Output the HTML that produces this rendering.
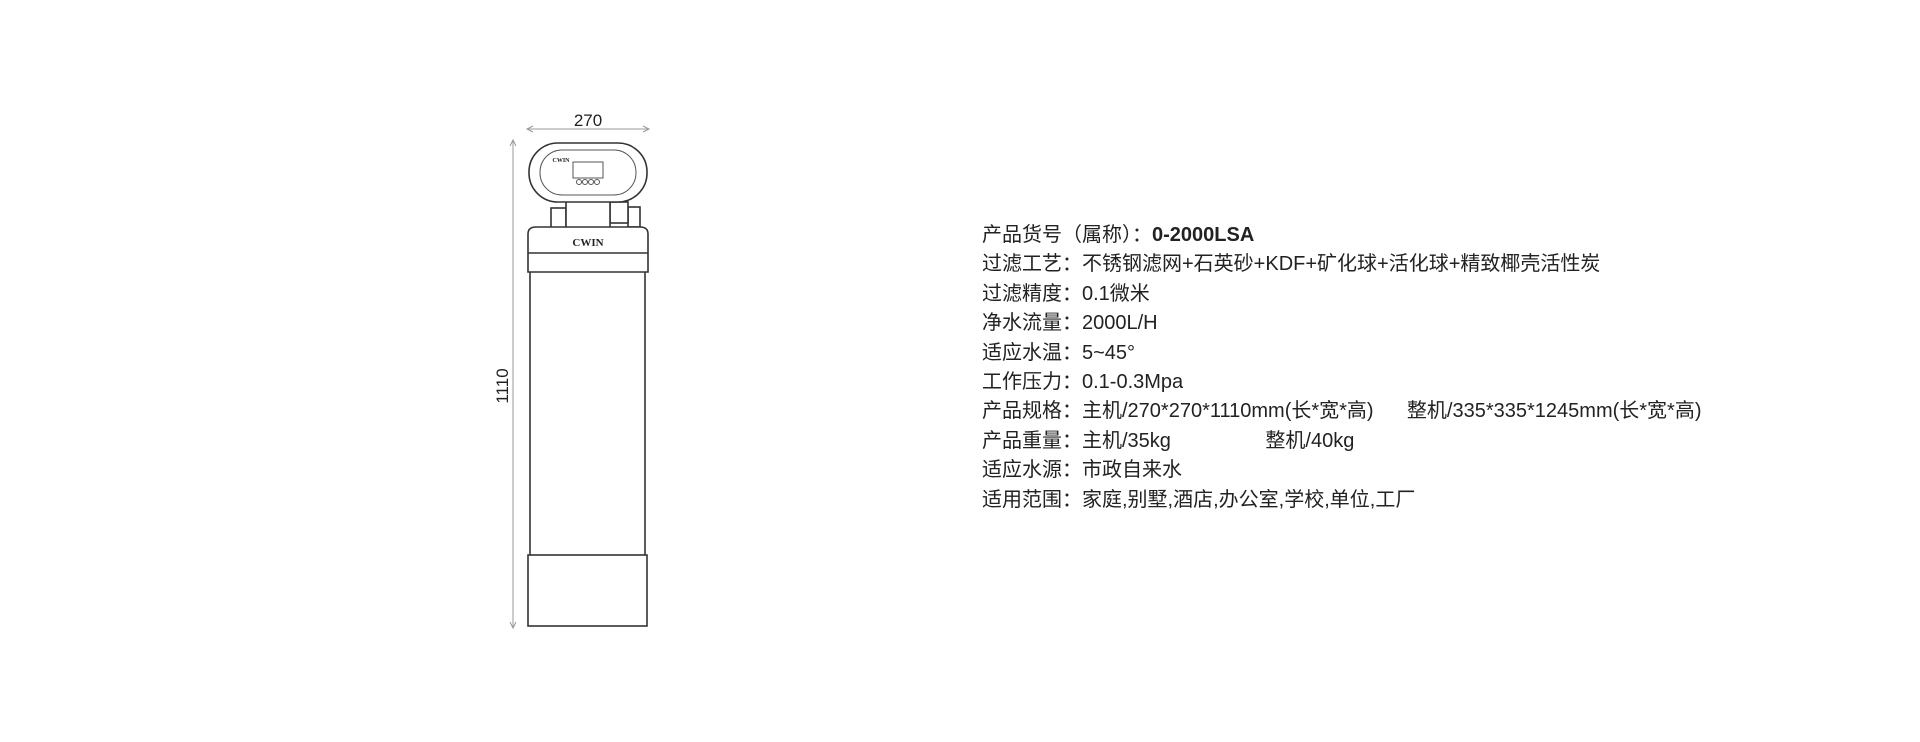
<!DOCTYPE html>
<html><head><meta charset="utf-8"><style>
html,body{margin:0;padding:0;background:#fff;width:1920px;height:742px;overflow:hidden;position:relative}
.t{position:absolute;left:982px;top:221px;font-family:"Liberation Sans","Noto Sans CJK SC",sans-serif;font-size:20px;color:#222;line-height:29.4px;white-space:pre}
</style></head><body>
<svg width="1920" height="742" style="position:absolute;left:0;top:0">
<g stroke="#999" stroke-width="1" fill="none">
<line x1="527" y1="129" x2="649" y2="129"/>
<path d="M533,126 L527,129 L533,132 M643,126 L649,129 L643,132"/>
<line x1="513" y1="140" x2="513" y2="628"/>
<path d="M510,146 L513,140 L516,146 M510,622 L513,628 L516,622"/>
</g>
<text x="588" y="126" font-family="Liberation Sans" font-size="17" text-anchor="middle" fill="#222">270</text>
<text transform="translate(508,386) rotate(-90)" font-family="Liberation Sans" font-size="17" text-anchor="middle" fill="#222">1110</text>
<g stroke="#333" stroke-width="1.6" fill="#fff">
<rect x="551" y="208" width="15" height="20"/>
<rect x="628" y="207" width="12" height="20"/>
<rect x="610" y="202" width="18" height="21"/>
<rect x="566" y="201" width="44" height="27"/>
<rect x="529" y="143" width="118" height="59" rx="29"/>
<rect x="530" y="269" width="115" height="287"/>
<path d="M528,272 L528,234 Q528,227 536,227 L640,227 Q648,227 648,234 L648,272 Z"/>
<line x1="528" y1="253" x2="648" y2="253"/>
<rect x="528" y="555" width="119" height="71"/>
</g>
<g stroke="#555" stroke-width="1" fill="none">
<rect x="540" y="150" width="96" height="45" rx="22"/>
<rect x="573" y="162" width="30" height="16"/>
<circle cx="579" cy="182" r="2.5"/><circle cx="585" cy="182" r="2.5"/><circle cx="591" cy="182" r="2.5"/><circle cx="597" cy="182" r="2.5"/>
</g>
<text x="561" y="162" font-family="Liberation Serif" font-size="6" font-weight="bold" text-anchor="middle" fill="#222">CWIN</text>
<text x="588" y="246" font-family="Liberation Serif" font-size="11" font-weight="bold" text-anchor="middle" fill="#222">CWIN</text>
</svg>
<div class="t">产品货号（属称）：<b>0-2000LSA</b>
过滤工艺：不锈钢滤网+石英砂+KDF+矿化球+活化球+精致椰壳活性炭
过滤精度：0.1微米
净水流量：2000L/H
适应水温：5~45°
工作压力：0.1-0.3Mpa
产品规格：主机/270*270*1110mm(长*宽*高)      整机/335*335*1245mm(长*宽*高)
产品重量：主机/35kg                 整机/40kg
适应水源：市政自来水
适用范围：家庭,别墅,酒店,办公室,学校,单位,工厂</div>
</body></html>
